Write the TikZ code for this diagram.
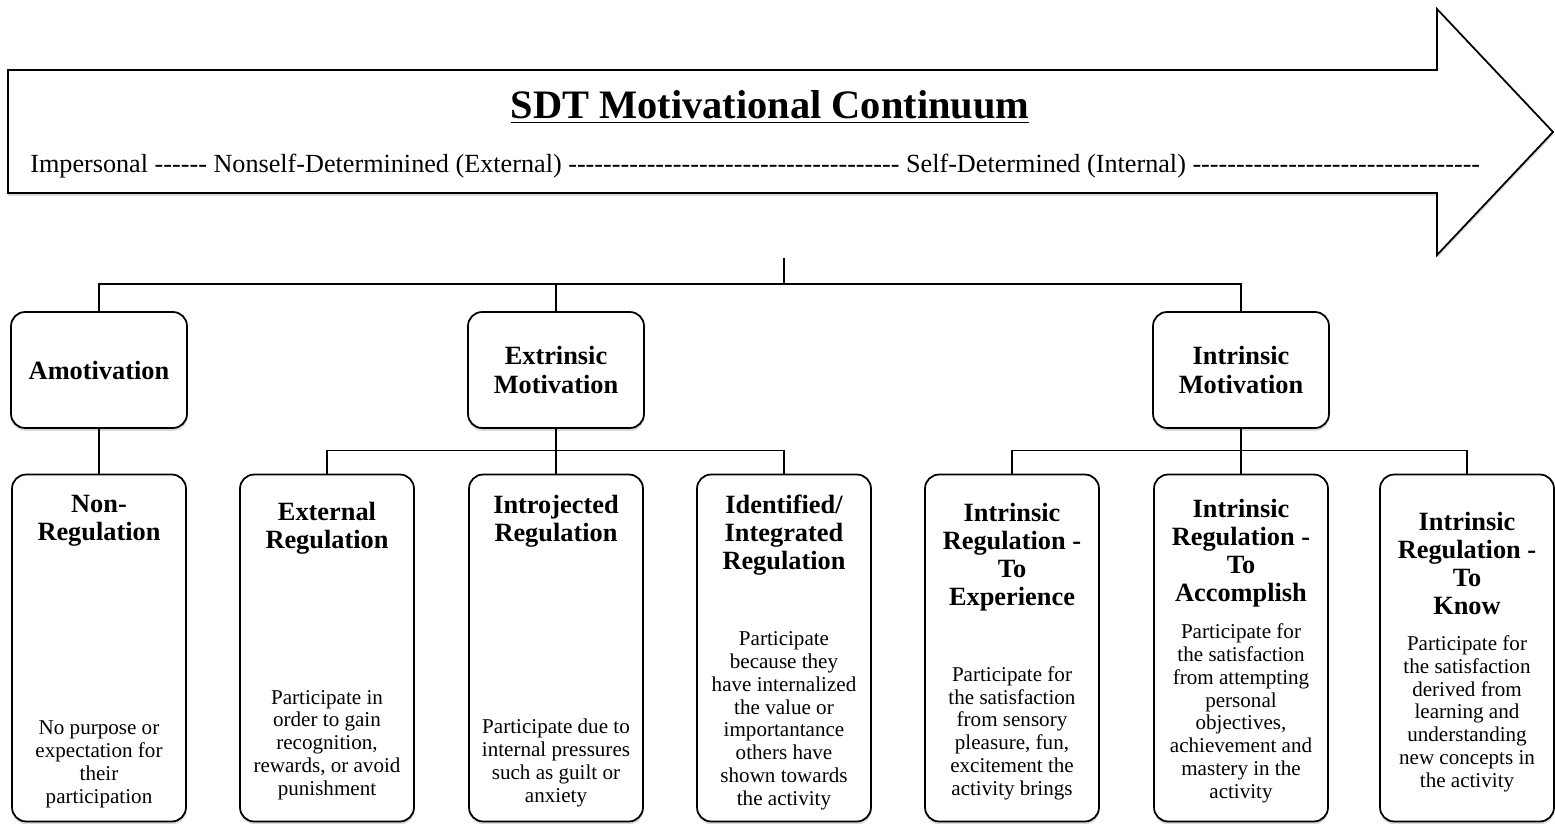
\documentclass[tikz,border=0pt]{standalone}
\usepackage{fontspec}
\setmainfont{Liberation Serif}
\usetikzlibrary{shadows}

\newcommand\dashrun[1]{\foreach \k in {1,...,#1}{\mbox{-}}}

\tikzset{
  softshadow/.style={drop shadow={shadow xshift=0.2pt,shadow yshift=-1.6pt,opacity=0.3}},
  card/.style={draw,line width=1pt,rounded corners=8pt,fill=white,softshadow},
  head/.style={font=\fontsize{15}{16}\selectfont\bfseries,align=center,inner sep=0pt},
  desc/.style={font=\fontsize{12}{13}\selectfont,align=center,inner sep=0pt},
  link/.style={line width=0.9pt},
}

\begin{document}
\begin{tikzpicture}[x=0.02cm,y=-0.02cm]
\useasboundingbox (0,0) rectangle (1555,824);

% continuum arrow
\draw[line width=1pt,fill=white,softshadow] (8,70) -- (1437,70) -- (1437,9) -- (1553,132)
  -- (1437,255) -- (1437,193) -- (8,193) -- cycle;
\node[font=\fontsize{23}{27}\selectfont\bfseries,anchor=base] (title) at (770,119)
  {\underline{SDT Motivational Continuum}};
\node[font=\fontsize{14.9}{17}\selectfont,anchor=base west,inner sep=0pt] (range) at (30,173)
  {Impersonal \dashrun{6} Nonself-Determinined (External) \dashrun{38} Self-Determined (Internal) \dashrun{33}};

\coordinate (top) at (784,258);

% first level
\node[card,head,minimum width=3.52cm,minimum height=2.32cm] (amot) at (99,370) {Amotivation};
\node[card,head,minimum width=3.52cm,minimum height=2.32cm] (extr) at (556,370) {Extrinsic\\Motivation};
\node[card,head,minimum width=3.52cm,minimum height=2.32cm] (intr) at (1241,370) {Intrinsic\\Motivation};

% second level
\node[card,minimum width=3.48cm,minimum height=6.94cm] (nonreg) at (99,648) {};
\node[card,minimum width=3.48cm,minimum height=6.94cm] (ext) at (327,648) {};
\node[card,minimum width=3.48cm,minimum height=6.94cm] (intro) at (556,648) {};
\node[card,minimum width=3.48cm,minimum height=6.94cm] (ident) at (784,648) {};
\node[card,minimum width=3.48cm,minimum height=6.94cm] (exper) at (1012,648) {};
\node[card,minimum width=3.48cm,minimum height=6.94cm] (accomp) at (1241,648) {};
\node[card,minimum width=3.48cm,minimum height=6.94cm] (know) at (1467,648) {};

\node[head,anchor=north] (nonregT) at ([shift={(0,21)}]nonreg.north) {Non-\\Regulation};
\node[head,anchor=north] (extT) at ([shift={(0,28.5)}]ext.north) {External\\Regulation};
\node[head,anchor=north] (introT) at ([shift={(0,21)}]intro.north) {Introjected\\Regulation};
\node[head,anchor=north] (identT) at ([shift={(0,21)}]ident.north) {Identified/\\Integrated\\Regulation};
\node[head,anchor=north] (experT) at ([shift={(0,29)}]exper.north) {Intrinsic\\Regulation -\\To\\Experience};
\node[head,anchor=north] (accompT) at ([shift={(0,25)}]accomp.north) {Intrinsic\\Regulation -\\To\\Accomplish};
\node[head,anchor=north] (knowT) at ([shift={(0,38)}]know.north) {Intrinsic\\Regulation -\\To\\Know};

\node[desc,anchor=south] (nonregD) at ([shift={(0,-14)}]nonreg.south)
  {No purpose or\\expectation for\\their\\participation};
\node[desc,anchor=south] (extD) at ([shift={(0,-22)}]ext.south)
  {Participate in\\order to gain\\recognition,\\rewards, or avoid\\punishment};
\node[desc,anchor=south] (introD) at ([shift={(0,-15)}]intro.south)
  {Participate due to\\internal pressures\\such as guilt or\\anxiety};
\node[desc,anchor=south] (identD) at ([shift={(0,-12)}]ident.south)
  {Participate\\because they\\have internalized\\the value or\\importantance\\others have\\shown towards\\the activity};
\node[desc,anchor=south] (experD) at ([shift={(0,-22)}]exper.south)
  {Participate for\\the satisfaction\\from sensory\\pleasure, fun,\\excitement the\\activity brings};
\node[desc,anchor=south] (accompD) at ([shift={(0,-19)}]accomp.south)
  {Participate for\\the satisfaction\\from attempting\\personal\\objectives,\\achievement and\\mastery in the\\activity};
\node[desc,anchor=south] (knowD) at ([shift={(0,-30)}]know.south)
  {Participate for\\the satisfaction\\derived from\\learning and\\understanding\\new concepts in\\the activity};

% connectors
\draw[link] (amot.north) -- ++(0,-27) coordinate (busL) -| (intr.north);
\draw[link] (extr.north) -- (extr.north |- busL);
\draw[link] (top) -- (top |- busL);
\draw[link] (amot.south) -- (nonreg.north);
\draw[link] (ext.north) -- ++(0,-23) coordinate (busE) -| (ident.north);
\draw[link] (extr.south) -- (intro.north);
\draw[link] (exper.north) -- ++(0,-23) coordinate (busI) -| (know.north);
\draw[link] (intr.south) -- (accomp.north);

\end{tikzpicture}
\end{document}
